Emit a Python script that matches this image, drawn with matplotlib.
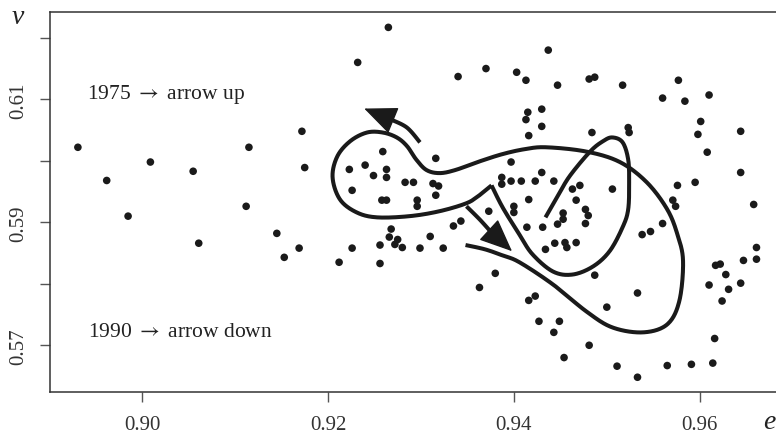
import numpy as np
import matplotlib
matplotlib.use("Agg")
import matplotlib.pyplot as plt

plt.rcParams['font.family'] = ['Liberation Serif', 'DejaVu Serif']
plt.rcParams['mathtext.fontset'] = 'stix'

# scatter data (e, v)
e_vals = [0.8931, 0.8962, 0.9009, 0.9055, 0.9115, 0.9112, 0.8985, 0.9172, 0.9175, 0.9232,
          0.9265, 0.9061, 0.9145, 0.9153, 0.9169, 0.9212, 0.9226, 0.9256, 0.9256, 0.9259,
          0.9316, 0.9223, 0.9240, 0.9249, 0.9263, 0.9263, 0.9226, 0.9283, 0.9292, 0.9313,
          0.9319, 0.9316, 0.9258, 0.9263, 0.9296, 0.9296, 0.9335, 0.9343, 0.9268, 0.9266,
          0.9275, 0.9272, 0.9280, 0.9310, 0.9299, 0.9324, 0.9340, 0.9370, 0.9403, 0.9413,
          0.9437, 0.9447, 0.9481, 0.9487, 0.9517, 0.9577, 0.9560, 0.9584, 0.9610, 0.9644,
          0.9601, 0.9598, 0.9608, 0.9644, 0.9576, 0.9595, 0.9571, 0.9574, 0.9658, 0.9415,
          0.9413, 0.9430, 0.9430, 0.9416, 0.9484, 0.9523, 0.9524, 0.9397, 0.9430, 0.9387,
          0.9387, 0.9397, 0.9408, 0.9423, 0.9443, 0.9463, 0.9471, 0.9467, 0.9506, 0.9416,
          0.9400, 0.9400, 0.9373, 0.9453, 0.9453, 0.9447, 0.9477, 0.9480, 0.9477, 0.9414,
          0.9431, 0.9434, 0.9444, 0.9455, 0.9467, 0.9457, 0.9538, 0.9547, 0.9560, 0.9661,
          0.9661, 0.9647, 0.9617, 0.9622, 0.9628, 0.9610, 0.9631, 0.9644, 0.9624, 0.9616,
          0.9614, 0.9591, 0.9565, 0.9533, 0.9511, 0.9533, 0.9500, 0.9487, 0.9481, 0.9454,
          0.9443, 0.9449, 0.9427, 0.9416, 0.9423, 0.9380, 0.9363]
v_vals = [0.6022, 0.5968, 0.5998, 0.5983, 0.6022, 0.5926, 0.5910, 0.6048, 0.5989, 0.6160,
          0.6217, 0.5866, 0.5882, 0.5843, 0.5858, 0.5835, 0.5858, 0.5863, 0.5833, 0.6015,
          0.6004, 0.5986, 0.5993, 0.5976, 0.5986, 0.5973, 0.5952, 0.5965, 0.5965, 0.5963,
          0.5959, 0.5944, 0.5936, 0.5936, 0.5936, 0.5926, 0.5894, 0.5902, 0.5889, 0.5876,
          0.5872, 0.5864, 0.5859, 0.5877, 0.5858, 0.5858, 0.6137, 0.6150, 0.6144, 0.6131,
          0.6180, 0.6123, 0.6133, 0.6136, 0.6123, 0.6131, 0.6102, 0.6097, 0.6107, 0.6048,
          0.6064, 0.6043, 0.6014, 0.5981, 0.5960, 0.5965, 0.5936, 0.5926, 0.5929, 0.6079,
          0.6067, 0.6084, 0.6056, 0.6041, 0.6046, 0.6054, 0.6046, 0.5998, 0.5981, 0.5973,
          0.5962, 0.5967, 0.5967, 0.5967, 0.5967, 0.5954, 0.5960, 0.5936, 0.5954, 0.5937,
          0.5926, 0.5916, 0.5918, 0.5915, 0.5905, 0.5897, 0.5921, 0.5911, 0.5898, 0.5892,
          0.5892, 0.5856, 0.5866, 0.5867, 0.5867, 0.5859, 0.5880, 0.5885, 0.5898, 0.5859,
          0.5840, 0.5838, 0.5830, 0.5832, 0.5815, 0.5798, 0.5791, 0.5801, 0.5772, 0.5711,
          0.5671, 0.5669, 0.5667, 0.5648, 0.5666, 0.5785, 0.5762, 0.5814, 0.5700, 0.5680,
          0.5721, 0.5739, 0.5739, 0.5773, 0.5780, 0.5817, 0.5794]

# hand-drawn path (annotation control points, data units)
inner_loop = [(0.9434, 0.5908), (0.9447, 0.5942), (0.9460, 0.5975), (0.9482, 0.6015),
              (0.9496, 0.6032), (0.9506, 0.6038), (0.9517, 0.6030), (0.9523, 0.6002),
              (0.9524, 0.5965), (0.9523, 0.5921), (0.9517, 0.5892), (0.9503, 0.5853),
              (0.9485, 0.5828), (0.9463, 0.5815), (0.9442, 0.5820), (0.9420, 0.5848),
              (0.9406, 0.5880), (0.9388, 0.5924), (0.9376, 0.5960)]
outer_loop = [(0.9376, 0.5960), (0.9363, 0.5944), (0.9349, 0.5931), (0.9320, 0.5918),
              (0.9288, 0.5910), (0.9253, 0.5908), (0.9231, 0.5916), (0.9213, 0.5937),
              (0.9205, 0.5973), (0.9210, 0.6007), (0.9224, 0.6032), (0.9242, 0.6046),
              (0.9259, 0.6046), (0.9274, 0.6038), (0.9285, 0.6024), (0.9295, 0.6002),
              (0.9306, 0.5985), (0.9320, 0.5980), (0.9337, 0.5985), (0.9363, 0.5999),
              (0.9388, 0.6011), (0.9412, 0.6019), (0.9435, 0.6022), (0.9478, 0.6015),
              (0.9514, 0.5998), (0.9543, 0.5965), (0.9565, 0.5921), (0.9576, 0.5880),
              (0.9582, 0.5837), (0.9578, 0.5772), (0.9565, 0.5734), (0.9539, 0.5721),
              (0.9506, 0.5729), (0.9478, 0.5755), (0.9442, 0.5799), (0.9406, 0.5835),
              (0.9388, 0.5846), (0.9369, 0.5856), (0.9348, 0.5863)]
up_shaft = [(0.9299, 0.6030), (0.9285, 0.6054), (0.9268, 0.6067)]
up_tip = (0.9239, 0.6085)
down_shaft = [(0.9349, 0.5926), (0.9363, 0.5905), (0.9375, 0.5885)]
down_tip = (0.9398, 0.5853)

x_ticks = [0.90, 0.92, 0.94, 0.96]
x_labels = ['0.90', '0.92', '0.94', '0.96']
y_ticks = [0.57, 0.58, 0.59, 0.60, 0.61, 0.62]
y_labels = ['0.57', '', '0.59', '', '0.61', '']


def catmull(pts, n=24):
    P = np.asarray(pts, dtype=float)
    P = np.vstack([P[0], P, P[-1]])
    out = []
    t = np.linspace(0, 1, n, endpoint=False)[:, None]
    for i in range(1, len(P) - 2):
        p0, p1, p2, p3 = P[i - 1], P[i], P[i + 1], P[i + 2]
        c = 0.5 * ((2 * p1) + (-p0 + p2) * t + (2 * p0 - 5 * p1 + 4 * p2 - p3) * t ** 2
                   + (-p0 + 3 * p1 - 3 * p2 + p3) * t ** 3)
        out.append(c)
    out.append(P[-2][None, :])
    return np.vstack(out)


ink = '#1a1a1a'
fig = plt.figure(figsize=(7.76, 4.35), dpi=100)
ax = fig.add_axes([50 / 776, 42 / 435, 726 / 776, 380 / 435])

ax.scatter(e_vals, v_vals, s=30, color=ink, edgecolors='none', zorder=3)

for seg in (inner_loop, outer_loop, up_shaft, down_shaft):
    c = catmull(seg)
    ax.plot(c[:, 0], c[:, 1], color=ink, lw=2.9, solid_capstyle='butt',
            solid_joinstyle='round', zorder=4)

for base, tip in ((up_shaft[-1], up_tip), (down_shaft[-1], down_tip)):
    ax.annotate('', xy=tip, xytext=base,
                arrowprops=dict(arrowstyle='-|>,head_length=1.4,head_width=0.6',
                                mutation_scale=15, color=ink, lw=1,
                                shrinkA=0, shrinkB=0), zorder=5)

ax.set_xlim(0.8901, 0.9682)
ax.set_ylim(0.5624, 0.6242)
ax.set_xticks(x_ticks)
ax.set_xticklabels(x_labels)
ax.set_yticks(y_ticks)
ax.set_yticklabels(y_labels, rotation=90, va='center')

for s in ('left', 'top', 'bottom'):
    ax.spines[s].set_color('#333333')
    ax.spines[s].set_linewidth(1.1)
ax.spines['right'].set_visible(False)
ax.tick_params(axis='both', direction='out', length=7.5, width=1.0, color='#555555',
               labelsize=15, labelcolor='#333333')
ax.tick_params(axis='x', pad=9)
ax.tick_params(axis='y', pad=8)

ax.text(0.8941, 0.6110, '1975 $\\rightarrow$ arrow up', fontsize=15.5, color='#222222',
        va='center', ha='left')
ax.text(0.8942, 0.5722, '1990 $\\rightarrow$ arrow down', fontsize=15.5, color='#222222',
        va='center', ha='left')

fig.text(18 / 776, 1 - 17 / 435, 'v', fontsize=20, style='italic', ha='center',
         va='center', color='#222222')
fig.text(769 / 776, 1 - 423 / 435, 'e', fontsize=20, style='italic', ha='center',
         va='center', color='#222222')

fig.savefig('out.png', dpi=100)
